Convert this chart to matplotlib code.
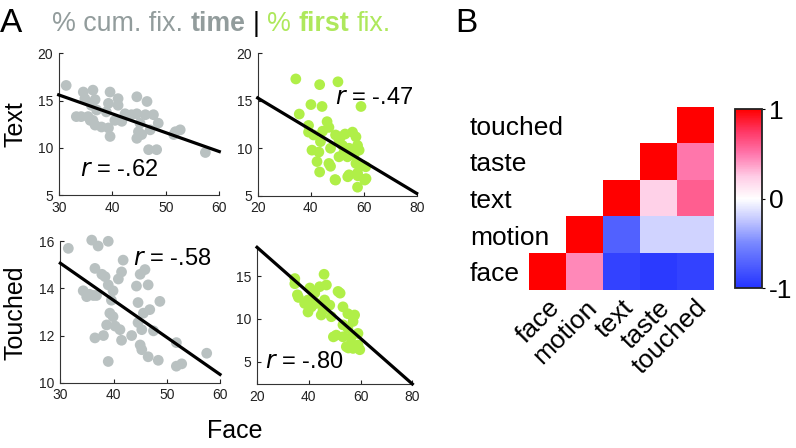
import numpy as np
import matplotlib
matplotlib.use("Agg")
import matplotlib.pyplot as plt
from matplotlib.colors import LinearSegmentedColormap

plt.rcParams['font.family'] = ['Liberation Sans', 'DejaVu Sans']

# --- data ---
# Text vs Face, % cumulative fixation time
face_cum_a = [31.4, 34.6, 36.4, 39.6, 41.1, 34.9, 36.8, 39.3, 41.1, 44.6, 46.5, 36.1, 37.1, 38.9,
              34.2, 35.5, 36.4, 36.8, 38.0, 39.3, 39.6, 40.5, 41.8, 42.4, 43.6, 44.6, 46.2, 47.7,
              45.2, 44.9, 45.5, 44.6, 47.1, 48.6, 51.8, 52.7, 51.5, 46.8, 48.3, 57.4, 33.3, 35.9]
text_cum = [16.6, 15.9, 16.1, 15.9, 15.2, 15.2, 15.1, 14.7, 14.5, 15.4, 14.9, 14.5, 14.0, 13.8,
            13.3, 13.3, 12.9, 12.4, 12.2, 12.1, 11.2, 12.9, 12.8, 13.6, 13.5, 13.6, 13.5, 13.5,
            12.6, 11.7, 11.4, 11.0, 11.9, 12.6, 11.7, 11.9, 11.4, 9.8, 9.8, 9.5, 13.3, 12.9]

# Text vs Face, % first fixation
face_first_a = [34.4, 43.4, 50.3, 40.1, 44.3, 59.0, 35.7, 39.2, 41.1, 46.2, 46.9, 43.7, 40.5, 43.1,
                42.4, 43.4, 46.9, 47.5, 49.4, 51.3, 49.4, 54.5, 50.7, 52.6, 52.0, 55.8, 57.1, 57.7,
                58.3, 56.4, 57.1, 59.6, 57.7, 60.9, 57.7, 54.5, 53.9, 39.2, 50.7, 49.2, 54.0, 57.8,
                60.4, 60.8, 44.5, 47.5, 53.0]
text_first = [17.3, 16.7, 17.0, 14.6, 14.4, 14.4, 13.6, 12.4, 11.4, 12.8, 12.2, 10.7, 9.8, 9.6,
              8.6, 7.5, 8.4, 8.1, 11.4, 11.2, 6.65, 7.2, 9.1, 9.6, 10.3, 11.7, 11.2, 10.3,
              9.8, 9.3, 8.4, 8.2, 7.4, 6.8, 5.9, 10.0, 9.1, 11.7, 10.9, 6.7, 7.0, 7.1,
              6.65, 8.05, 11.8, 10.0, 11.5]

# Touched vs Face, % cumulative fixation time
face_cum_b = [31.5, 35.9, 37.1, 39.0, 41.8, 36.5, 37.8, 38.4, 41.5, 40.9, 45.0, 45.9, 44.3, 46.5,
              39.0, 39.9, 34.3, 34.95, 36.2, 39.6, 44.6, 48.7, 39.3, 39.9, 45.6, 46.8, 38.7, 40.3,
              41.2, 44.6, 45.3, 47.5, 36.5, 38.1, 41.5, 43.4, 45.0, 45.3, 46.5, 48.4, 39.0, 51.8,
              57.5, 51.8, 52.8, 35.5, 36.8]
touched_cum = [15.7, 16.05, 15.8, 16.0, 15.2, 14.85, 14.6, 14.5, 14.7, 14.4, 14.6, 14.8, 14.1, 14.15,
               14.15, 13.9, 13.9, 13.65, 13.7, 13.5, 13.4, 13.45, 12.95, 12.8, 12.95, 13.1, 12.45, 12.4,
               12.25, 12.55, 12.25, 12.2, 11.9, 12.0, 11.8, 12.0, 11.6, 11.4, 11.1, 10.95, 10.9, 11.7,
               11.25, 10.7, 10.8, 13.75, 13.7]

# Touched vs Face, % first fixation
face_first_b = [34.6, 45.9, 34.6, 35.6, 40.4, 44.2, 46.8, 51.3, 42.3, 39.7, 38.4, 41.0, 42.9, 46.1,
                48.1, 45.5, 48.7, 44.8, 39.7, 53.2, 55.1, 57.7, 57.1, 53.2, 55.1, 50.6, 53.2, 56.4,
                59.0, 54.5, 57.1, 59.0, 59.7, 56.4, 36.0, 49.5, 57.2, 55.3, 59.1, 52.1]
touched_first = [14.7, 15.2, 14.1, 12.8, 13.6, 13.75, 13.95, 13.2, 13.0, 12.2, 11.8, 11.4, 11.8, 12.2,
                 11.6, 11.0, 10.25, 10.45, 10.8, 11.4, 10.6, 10.45, 9.7, 9.3, 8.9, 8.1, 7.9, 7.9,
                 8.3, 6.75, 6.55, 6.95, 6.4, 7.15, 12.5, 7.9, 10.25, 6.6, 6.6, 13.0]

# regression line end points
fit_x_cum = [30, 60]
fit_x_first = [20, 80]
fit_text_cum = [15.6, 9.6]
fit_text_first = [15.3, 5.25]
fit_touched_cum = [15.07, 10.35]
fit_touched_first = [18.35, 2.4]

r_labels = ['-.62', '-.47', '-.58', '-.80']

# correlation matrix (upper triangle; rows bottom->top)
categories = ['face', 'motion', 'text', 'taste', 'touched']
corr_face = [1.0, 0.45, -0.9, -0.95, -0.9]
corr_motion = [1.0, -0.72, -0.18, -0.18]
corr_text = [1.0, 0.22, 0.6]
corr_taste = [1.0, 0.5]
corr_touched = [1.0]

gray = '#b9c1c1'
green = '#b0ef48'
gray_t = '#929c9c'
green_t = '#aee85c'

fig = plt.figure(figsize=(7.96, 4.48), dpi=100)


def style(ax):
    for s in ['top', 'right']:
        ax.spines[s].set_visible(False)
    for s in ['left', 'bottom']:
        ax.spines[s].set_color('#333333')
        ax.spines[s].set_linewidth(0.8)
    ax.tick_params(direction='in', length=3, width=0.8, labelsize=10, pad=4, colors='#222222')


def scatter_panel(rect, x, y, fx, fy, col, xlim, ylim, xt, yt, rtext, rpos):
    ax = fig.add_axes(rect)
    ax.scatter(x, y, s=60, color=col, edgecolors='none', zorder=2, clip_on=False)
    ax.plot(fx, fy, color='black', lw=2.3, zorder=3, clip_on=False)
    ax.set_xlim(xlim)
    ax.set_ylim(ylim)
    ax.set_xticks(xt)
    ax.set_yticks(yt)
    ax.text(rpos[0], rpos[1], r'$\it{r}$' + ' = ' + rtext, fontsize=17, va='baseline')
    style(ax)
    return ax


ax1 = scatter_panel([0.0737, 0.5647, 0.2018, 0.3163], face_cum_a, text_cum, fit_x_cum, fit_text_cum,
                    gray, (30, 60), (5, 20), [30, 40, 50, 60], [5, 10, 15, 20], r_labels[0], (34.0, 7.0))
ax2 = scatter_panel([0.3237, 0.5631, 0.1997, 0.3179], face_first_a, text_first, fit_x_first, fit_text_first,
                    green, (20, 80), (5, 20), [20, 40, 60, 80], [5, 10, 15, 20], r_labels[1], (49.2, 14.66))
ax3 = scatter_panel([0.0758, 0.1458, 0.2006, 0.3156], face_cum_b, touched_cum, fit_x_cum, fit_touched_cum,
                    gray, (30, 60), (10, 16), [30, 40, 50, 60], [10, 12, 14, 16], r_labels[2], (43.7, 15.0))
ax4 = scatter_panel([0.3229, 0.1429, 0.1951, 0.3051], face_first_b, touched_first, fit_x_first, fit_touched_first,
                    green, (20, 80), (2.4, 18.35), [20, 40, 60, 80], [5, 10, 15], r_labels[3], (23.1, 4.23))

fig.text(0.019, 0.7232, 'Text', rotation=90, fontsize=18, ha='center', va='center')
fig.text(0.019, 0.303, 'Touched', rotation=90, fontsize=18, ha='center', va='center')
fig.text(0.295, 0.022, 'Face', fontsize=18, ha='center', va='baseline')

# panel letters
fig.text(0.0, 0.929, 'A', fontsize=24, va='baseline')
fig.text(0.5716, 0.929, 'B', fontsize=24, va='baseline')

# title built from coloured / bold runs
renderer = fig.canvas.get_renderer()
runs = [('% cum. fix.', gray_t, 'normal'), ('time', gray_t, 'bold'), ('|', 'black', 'normal'),
        ('%', green_t, 'normal'), ('first', green_t, 'bold'), ('fix.', green_t, 'normal')]
tsize = 19.3
space = 0.278 * tsize * 100 / 72 / fig.bbox.width
xpos = 0.0653
for s, c, w in runs:
    t = fig.text(xpos, 0.9315, s, color=c, fontweight=w, fontsize=tsize, va='baseline')
    bb = t.get_window_extent(renderer)
    xpos += bb.width / fig.bbox.width + space

# correlation heatmap
n = len(categories)
mat = np.full((n, n), np.nan)
for i, row in enumerate([corr_face, corr_motion, corr_text, corr_taste, corr_touched]):
    mat[i, i:] = row

cmap = LinearSegmentedColormap.from_list('rb', [
    (0.0, (0.14, 0.20, 1.0)),
    (0.25, (0.47, 0.53, 1.0)),
    (0.375, (0.75, 0.77, 1.0)),
    (0.5, (1.0, 1.0, 1.0)),
    (0.625, (1.0, 0.80, 0.90)),
    (0.75, (1.0, 0.47, 0.68)),
    (0.875, (1.0, 0.22, 0.40)),
    (1.0, (1.0, 0.0, 0.0))])

axh = fig.add_axes([0.665, 0.3527, 0.2312, 0.409])
im = axh.imshow(mat, cmap=cmap, vmin=-1, vmax=1, origin='lower', aspect='auto')
axh.set_xticks(range(n))
axh.set_yticks(range(n))
axh.set_xticklabels(categories, rotation=45, ha='right', rotation_mode='anchor', fontsize=19)
axh.set_yticklabels(categories, fontsize=19)
for lab in axh.get_yticklabels():
    lab.set_horizontalalignment('left')
axh.tick_params(length=0)
axh.tick_params(axis='y', pad=42.7)
axh.tick_params(axis='x', pad=4)
for s in axh.spines.values():
    s.set_visible(False)

cax = fig.add_axes([0.9234, 0.3565, 0.0335, 0.3996])
cb = fig.colorbar(im, cax=cax, ticks=[-1, 0, 1])
cb.ax.set_yticklabels(['-1', '0', '1'], fontsize=19)
cb.outline.set_linewidth(1.3)
cb.outline.set_edgecolor('#222222')
cb.ax.tick_params(length=2, width=0.8, pad=3)

fig.savefig('out.png', dpi=100)
